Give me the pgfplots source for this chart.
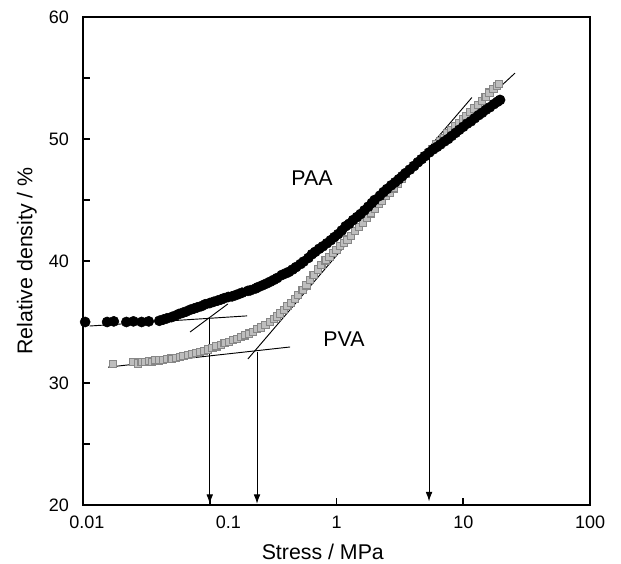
\documentclass[border=0pt]{standalone}
\usepackage{pgfplots}
\pgfplotsset{compat=1.18}
\usepackage{fontspec}
\setmainfont{Liberation Sans}
\usetikzlibrary{arrows.meta}
\definecolor{pvafill}{RGB}{190,190,190}
\definecolor{pvaedge}{RGB}{135,135,135}

\begin{document}
\begin{tikzpicture}
\begin{axis}[
    scale only axis,
    width=380.25pt, height=366pt,
    xmode=log,
    xmin=0.01, xmax=100,
    ymin=20, ymax=60,
    xtick={0.01,0.1,1,10,100},
    xticklabels={\hspace*{6pt}0.01,\hspace*{28pt}0.1,1,10,100},
    xminorticks=false,
    ytick={20,30,40,50,60},
    minor ytick={25,35,45,55},
    xtick pos=bottom, ytick pos=left,
    tick align=inside,
    major tick length=5pt, minor tick length=5pt,
    every tick/.style={black, line width=1.2pt},
    axis line style={line width=1.8pt},
    /pgf/number format/assume math mode=true,
    tick label style={font=\fontsize{13.5}{15}\selectfont},
    xticklabel style={yshift=-5pt},
    yticklabel style={xshift=-7pt},
    xlabel={Stress / MPa},
    ylabel={Relative density / \%},
    label style={font=\fontsize{16}{18}\selectfont},
    xlabel style={at={(rel axis cs:0.473,-0.0963)}, anchor=center},
    ylabel style={at={(rel axis cs:-0.1105,0.5)}, anchor=center},
    clip=false,
]
% PVA (grey squares)
\addplot[only marks, mark=square*, mark size=2.7pt,
    mark options={fill=pvafill, draw=pvaedge, line width=0.8pt}] coordinates {
(0.0172,31.55) (0.0248,31.7) (0.027,31.6) (0.029,31.75) (0.031,31.7)
(0.033,31.8) (0.035,31.75) (0.037,31.85) (0.040,31.85) (0.043,31.9)
(0.046,31.95) (0.050,32.0) (0.054,32.05) (0.058,32.1) (0.062,32.2)
(0.067,32.3) (0.072,32.35) (0.078,32.45) (0.084,32.55) (0.090,32.65)
(0.097,32.75) (0.105,32.85) (0.113,33.0) (0.122,33.1) (0.131,33.25)
(0.141,33.35) (0.152,33.5) (0.164,33.6) (0.177,33.75) (0.19,33.9)
(0.205,34.05) (0.22,34.2) (0.237,34.4) (0.255,34.55) (0.275,34.75)
(0.30,35.0) (0.32,35.25) (0.34,35.45) (0.36,35.7) (0.385,36.0)
(0.41,36.3) (0.44,36.55) (0.47,36.9) (0.50,37.2) (0.54,37.6)
(0.58,38.0) (0.62,38.45) (0.66,38.85) (0.71,39.3) (0.76,39.65)
(0.82,40.05) (0.88,40.35) (0.94,40.65) (1.00,40.9) (1.07,41.2)
(1.14,41.45) (1.22,41.75) (1.30,42.05) (1.40,42.45) (1.50,42.8)
(1.61,43.15) (1.73,43.55) (1.86,43.9) (2.00,44.3) (2.15,44.65)
(2.30,44.95) (2.47,45.3) (2.64,45.6) (2.83,45.95) (3.04,46.35)
(3.26,46.75) (3.50,47.1) (3.75,47.45) (4.02,47.75) (4.31,48.05)
(4.62,48.35) (4.95,48.6) (5.30,48.85) (5.70,49.2) (6.10,49.55)
(6.55,49.85) (7.00,50.1) (7.50,50.45) (8.05,50.75) (8.60,51.05)
(9.20,51.3) (9.90,51.6) (10.6,51.85) (11.4,52.2) (12.2,52.5)
(13.1,52.8) (14.0,53.1) (15.0,53.45) (16.1,53.8) (17.3,54.1)
(18.5,54.35) (19.1,54.5)
};
% PAA (black circles)
\addplot[only marks, mark=*, mark size=3.8pt, mark options={fill=black, draw=black}] coordinates {
(0.0104,35.0) (0.0155,35.0) (0.0175,35.05) (0.022,35.0) (0.025,35.05)
(0.029,35.0) (0.033,35.05) (0.040,35.1) (0.043,35.2) (0.046,35.3)
(0.050,35.4) (0.053,35.5) (0.057,35.65) (0.061,35.75) (0.065,35.85)
(0.070,36.0) (0.075,36.1) (0.080,36.2) (0.086,36.3) (0.092,36.45)
(0.100,36.55) (0.107,36.65) (0.115,36.75) (0.123,36.85) (0.130,36.95)
(0.140,37.05) (0.150,37.1) (0.160,37.2) (0.170,37.3) (0.180,37.4)
(0.200,37.55) (0.210,37.6) (0.230,37.75) (0.240,37.85) (0.260,38.0)
(0.280,38.15) (0.300,38.3) (0.320,38.45) (0.340,38.6) (0.370,38.85)
(0.400,39.0) (0.420,39.1) (0.450,39.3) (0.480,39.5) (0.520,39.75)
(0.550,39.95) (0.600,40.25) (0.640,40.55) (0.680,40.75) (0.730,41.0)
(0.780,41.2) (0.840,41.45) (0.900,41.7) (0.960,41.95) (1.03,42.2)
(1.10,42.5) (1.18,42.85) (1.26,43.05) (1.35,43.35) (1.45,43.6)
(1.55,43.85) (1.66,44.15) (1.78,44.45) (1.90,44.75) (2.00,45.0)
(2.20,45.35) (2.35,45.65) (2.50,45.9) (2.70,46.2) (2.90,46.45)
(3.10,46.7) (3.30,46.95) (3.50,47.2) (3.80,47.5) (4.10,47.8)
(4.40,48.1) (4.70,48.35) (5.00,48.6) (5.40,48.9) (5.80,49.15)
(6.20,49.35) (6.60,49.55) (7.10,49.8) (7.60,50.0) (8.10,50.25)
(8.70,50.5) (9.30,50.75) (10.0,51.0) (10.7,51.25) (11.5,51.45)
(12.3,51.7) (13.2,51.95) (14.1,52.15) (15.1,52.4) (16.2,52.6)
(17.4,52.85) (18.6,53.05) (19.5,53.2)
};
% tangent lines
\addplot[black, line width=0.7pt] coordinates {(0.0113,34.67) (0.197,35.5)};
\addplot[black, line width=0.7pt] coordinates {(0.07,34.18) (0.139,36.48)};
\addplot[black, line width=0.7pt] coordinates {(0.0158,31.3) (0.43,32.95)};
\addplot[black, line width=0.7pt] coordinates {(0.2,31.97) (11.7,53.4)};
\addplot[black, line width=0.7pt] coordinates {(3.0,46.45) (25.6,55.4)};
% arrows
\addplot[black, line width=0.7pt, -{Latex[length=7pt,width=5pt]}] coordinates {(0.1,35.3) (0.1,20.1)};
\addplot[black, line width=0.7pt, -{Latex[length=7pt,width=5pt]}] coordinates {(0.236,32.5) (0.236,20.1)};
\addplot[black, line width=0.7pt, -{Latex[length=7pt,width=5pt]}] coordinates {(5.37,48.9) (5.37,20.3)};

\node[font=\fontsize{16}{18}\selectfont] at (rel axis cs:0.4517,0.670) {PAA};
\node[font=\fontsize{16}{18}\selectfont] at (rel axis cs:0.5148,0.340) {PVA};

\coordinate (bl) at (rel axis cs:-0.1637,-0.1209);
\coordinate (tr) at (rel axis cs:1.0611,1.0348);
\end{axis}
\pgfresetboundingbox
\path[use as bounding box] (bl) rectangle (tr);
\end{tikzpicture}
\end{document}
